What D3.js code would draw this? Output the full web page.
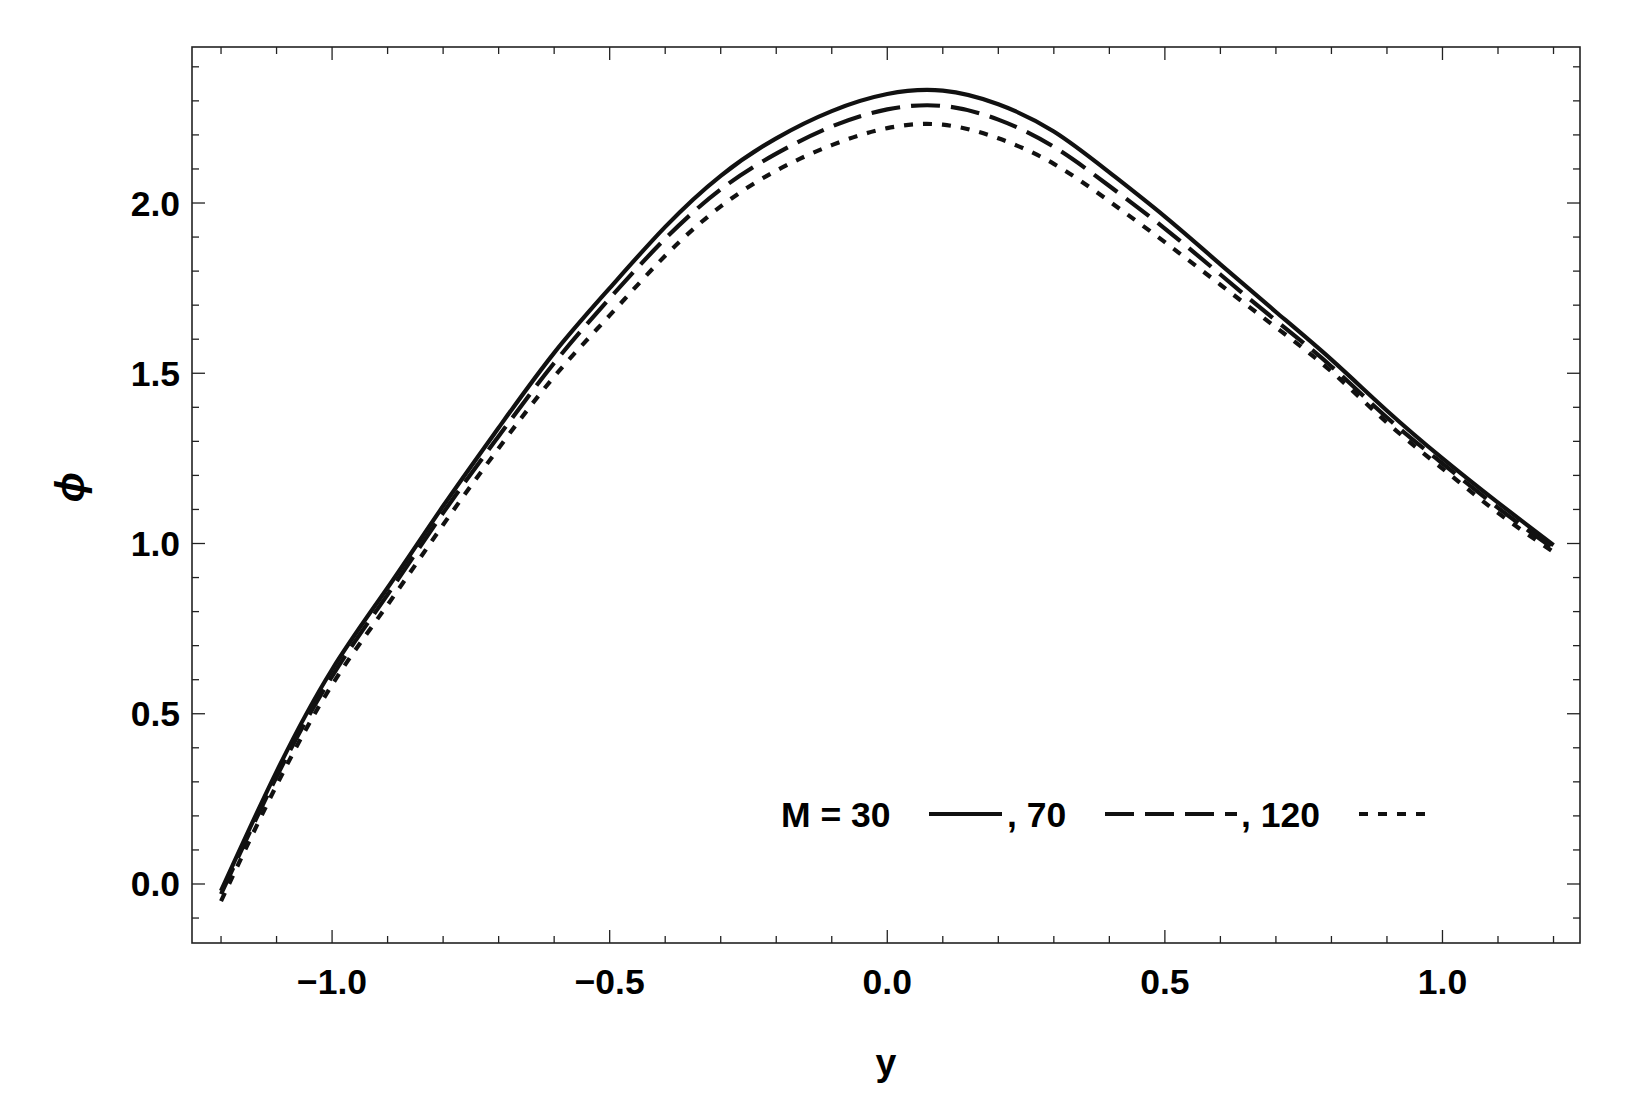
<!DOCTYPE html>
<html><head><meta charset="utf-8">
<script src="https://cdn.jsdelivr.net/npm/d3@7"></script>
<style>body{margin:0;background:#fff}text{font-family:"Liberation Sans",Arial,sans-serif;font-weight:bold}</style>
</head><body>
<svg id="c" width="1636" height="1120"></svg>
<script>
const xs = [-1.2,-1.1,-1.0,-0.9,-0.8,-0.7,-0.6,-0.5,-0.4,-0.3,-0.2,-0.1,0,0.1,0.2,0.3,0.4,0.5,0.6,0.7,0.8,0.9,1.0,1.1,1.2];
const m30  = [-0.02,0.33,0.63,0.87,1.11,1.34,1.56,1.75,1.93,2.08,2.19,2.27,2.32,2.33,2.29,2.21,2.09,1.96,1.82,1.68,1.54,1.39,1.25,1.12,0.995];
const m70  = [-0.03,0.315,0.61,0.85,1.09,1.315,1.53,1.72,1.895,2.04,2.145,2.225,2.275,2.285,2.245,2.165,2.05,1.925,1.79,1.655,1.52,1.37,1.235,1.105,0.985];
const m120 = [-0.05,0.29,0.585,0.82,1.055,1.28,1.49,1.67,1.845,1.99,2.095,2.17,2.22,2.23,2.19,2.115,2.005,1.885,1.76,1.635,1.505,1.355,1.22,1.09,0.975];
const xTicks = [-1.0,-0.5,0.0,0.5,1.0];
const yTicks = [0.0,0.5,1.0,1.5,2.0];
const L=192,R=1580,T=47,B=943;
const svg=d3.select("#c");
const x=d3.scaleLinear().domain([-1.2523,1.2477]).range([L,R]);
const y=d3.scaleLinear().domain([-0.1733,2.4582]).range([B,T]);
svg.append("rect").attr("x",L).attr("y",T).attr("width",R-L).attr("height",B-T).attr("fill","none").attr("stroke","#222").attr("stroke-width",1.6);
const g=svg.append("g").attr("stroke","#222").attr("stroke-width",1.3);
for(let i=-12;i<=12;i++){const v=i/10,maj=i%5===0,len=maj?13:7;
 g.append("line").attr("x1",x(v)).attr("x2",x(v)).attr("y1",B).attr("y2",B-len);
 g.append("line").attr("x1",x(v)).attr("x2",x(v)).attr("y1",T).attr("y2",T+len);}
for(let i=-1;i<=24;i++){const v=i/10,maj=i%5===0,len=maj?13:7;
 g.append("line").attr("y1",y(v)).attr("y2",y(v)).attr("x1",L).attr("x2",L+len);
 g.append("line").attr("y1",y(v)).attr("y2",y(v)).attr("x1",R).attr("x2",R-len);}
const fmt=v=>(v<0?"\u2212":"")+Math.abs(v).toFixed(1);
svg.selectAll(".xt").data(xTicks).join("text").attr("x",d=>x(d)).attr("y",994).attr("text-anchor","middle").attr("font-size",35.5).text(fmt);
svg.selectAll(".yt").data(yTicks).join("text").attr("x",180).attr("y",d=>y(d)+12.5).attr("text-anchor","end").attr("font-size",35.5).text(fmt);
svg.append("text").attr("x",886).attr("y",1075).attr("text-anchor","middle").attr("font-size",37.5).text("y");
svg.append("text").attr("transform","translate(84,487) rotate(-90)").attr("text-anchor","middle").attr("font-size",40).attr("font-style","italic").text("\u03d5");
const line=d3.line().x((d,i)=>x(xs[i])).y(d=>y(d)).curve(d3.curveNatural);
[[m30,null],[m70,"29,11"],[m120,"9,10"]].forEach(([s,da])=>{
 const p=svg.append("path").attr("d",line(s)).attr("fill","none").attr("stroke","#111").attr("stroke-width",4.2);
 if(da)p.attr("stroke-dasharray",da);});
const ly=814, fs=35.5;
svg.append("text").attr("x",781).attr("y",ly+13).attr("font-size",fs).text("M = 30");
svg.append("text").attr("x",1007).attr("y",ly+13).attr("font-size",fs).text(", 70");
svg.append("text").attr("x",1241).attr("y",ly+13).attr("font-size",fs).text(", 120");
[[929,1002,null],[1105,1237,"29,11"],[1359,1425,"9,10"]].forEach(([a,b,da])=>{
 const l=svg.append("line").attr("x1",a).attr("x2",b).attr("y1",ly).attr("y2",ly).attr("stroke","#111").attr("stroke-width",4.2);
 if(da)l.attr("stroke-dasharray",da);});
</script></body></html>
